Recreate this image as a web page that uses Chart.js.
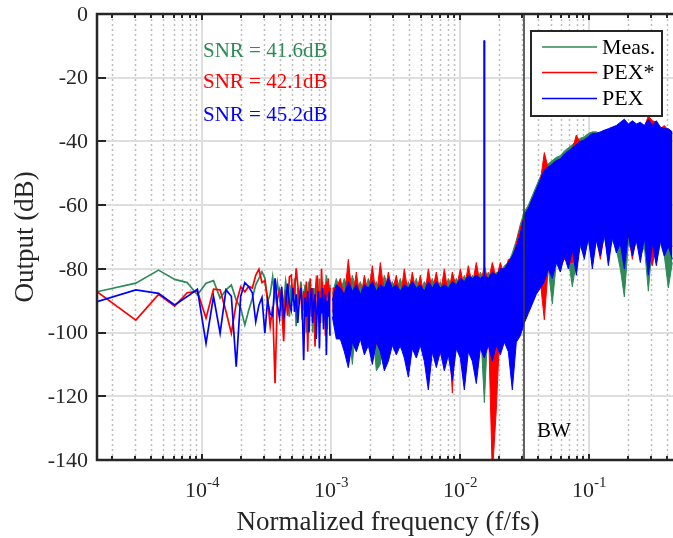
<!DOCTYPE html>
<html>
<head>
<meta charset="utf-8">
<script src="https://cdn.jsdelivr.net/npm/chart.js@4/dist/chart.umd.min.js"></script>
<style>
  html, body { margin: 0; padding: 0; background: #fff; }
  canvas { display: block; }
</style>
</head>
<body>
<canvas id="spectrum" width="673" height="538"></canvas>
<script>
(function(){
  // FFT length of the measured record, bins are k / NFFT
  const NFFT = 65536;

  // first 64 bins, one value per bin (dB)
  const measLow = [-87.2,-84.5,-80.4,-83.3,-84.3,-88.2,-84.5,-83.7,-89.2,-86.6,
    -85.1,-89.8,-92.3,-97.6,-93,-89.2,-85,-83,-80.9,-82.9,
    -90.3,-88,-82.5,-89.5,-84.3,-89.5,-86.6,-92,-84,-88,
    -95,-85,-90,-83,-98,-86,-91,-84,-89,-93,
    -85,-100,-88,-84,-92,-87,-100,-86,-90,-84,
    -86,-92,-83,-95,-88,-84,-97,-87,-90,-82,-99,-86,-91,-85];
  const pexStarLow = [-87.2,-96.1,-88,-91.7,-87.5,-87,-95.5,-86.4,-86.6,-93.4,
    -100.2,-90.8,-85.6,-87.2,-85.5,-86,-82,-80.1,-84.3,-83.7,
    -89.5,-98,-91.8,-115.9,-89.5,-86.6,-91.8,-102.7,-86.6,-94.7,
    -82.5,-82,-88.4,-87.5,-79.8,-85,-89.5,-86.6,-96,-87,
    -91,-84,-106,-88,-83,-95,-86,-90,-104.4,-85,
    -82,-90,-87,-97,-80,-88,-93,-85,-101,-84,-89,-83,-95,-86];
  const pexLow = [-90.3,-86.6,-87.7,-91.3,-88.7,-86.4,-103.4,-88.6,-100.2,-86.6,
    -88.6,-110.7,-88.6,-84.3,-85.6,-87.5,-96.6,-91.4,-89,-100.2,
    -89.9,-94.2,-94.7,-83,-91.4,-95.5,-85.6,-95.5,-91.4,-84.6,
    -90.9,-93,-86,-93.5,-88,-97,-90,-86,-92,-108.6,
    -89,-95,-87,-100,-90,-86,-97,-91,-88,-102,
    -92,-87,-105,-89,-94,-86,-99,-91,-88,-107,-90,-95,-87,-101];

  // dense part: top / bottom of the noise band at these frequencies
  const bandFreq = [1.018e-3,1.093e-3,1.174e-3,1.261e-3,1.354e-3,1.455e-3,
    1.563e-3,1.678e-3,1.803e-3,1.936e-3,2.079e-3,2.233e-3,2.398e-3,2.576e-3,2.766e-3,2.971e-3,
    3.191e-3,3.427e-3,3.680e-3,3.953e-3,4.245e-3,4.559e-3,4.896e-3,5.258e-3,5.647e-3,6.065e-3,
    6.516e-3,6.998e-3,7.516e-3,8.072e-3,8.669e-3,9.311e-3,1.000e-2,1.074e-2,1.153e-2,1.239e-2,
    1.330e-2,1.429e-2,1.535e-2,1.648e-2,1.770e-2,1.901e-2,2.042e-2,2.193e-2,2.355e-2,2.529e-2,
    2.717e-2,2.918e-2,3.134e-2,3.365e-2,3.614e-2,3.882e-2,4.170e-2,4.478e-2,4.809e-2,5.165e-2,
    5.547e-2,5.958e-2,6.398e-2,6.872e-2,7.380e-2,7.926e-2,8.513e-2,9.143e-2,9.82e-2,0.1055,
    0.1133,0.1217,0.1307,0.1404,0.1508,0.1619,0.1739,0.1868,0.2006,0.2155,
    0.2314,0.2485,0.2669,0.2867,0.3079,0.3307,0.3551,0.3814,0.4096,0.4399];

  const pexTop = [-90,-85,-86,-88,-84,-87,
    -85,-88,-85,-86,-84,-87,-85,-86,-83,-86,
    -85,-87,-85,-86,-84,-86,-85,-87,-84,-86,
    -84,-86,-85,-86,-84,-85,-83,-84,-82,-83,
    -82,-83,-82,-83,-81,-82,-80,-80,-78,-76,
    -73,-69,-63,-61,-58,-55,-52,-49,-48,-47,
    -46,-45.5,-44,-43,-42,-41,-40,-39.5,-38.5,-37.5,
    -37.5,-37,-36.5,-36,-35.5,-35,-34,-33,-34.5,-33.5,
    -34.5,-34,-35,-33,-35,-33.5,-35.5,-36,-36,-37];
  const pexBottom = [-95,-102,-102,-106,-111,-103,
    -106,-102,-107,-104,-110,-103,-106,-112,-109,-104,
    -107,-104,-108,-114,-105,-108,-104,-109,-118,-106,
    -111,-106,-112,-107,-115,-105,-108,-118,-106,-109,
    -116,-105,-108,-104,-109,-104,-107,-103,-106,-118,
    -103,-101,-97,-94,-91,-88,-86,-84,-80,-83,
    -78,-81,-76,-80,-74,-82,-72,-77,-70,-80,
    -71,-76,-69,-79,-70,-75,-72,-80,-69,-76,
    -71,-78,-70,-82,-72,-79,-71,-76,-73,-77];

  const pexStarTop = [-86,-86,-83,-89,-77,-89,
    -81,-90,-82,-88,-79,-89,-78,-88,-81,-87,
    -82,-89,-80,-88,-81,-88,-82,-89,-80,-87,
    -81,-88,-80,-88,-81,-86,-80,-86,-79,-85,
    -78,-85,-79,-84,-78,-83,-78,-82,-77,-77,
    -72,-67,-63.5,-61.5,-58.5,-55.5,-52.5,-43.5,-48.5,-47.5,
    -46.5,-46,-44.5,-43.5,-42.5,-38,-40.5,-40,-39,-38,
    -38,-37.5,-37,-36.5,-36,-35.5,-34.5,-33.5,-35,-34,
    -35,-34.5,-35.5,-32,-33.5,-34,-36,-35,-36.5,-37.5];
  const pexStarBottom = [-93,-95,-98,-96,-99,-96,
    -97,-95,-98,-96,-99,-104,-97,-107,-96,-98,
    -95,-97,-96,-98,-95,-97,-96,-98,-96,-97,
    -95,-98,-96,-97,-119,-96,-98,-96,-97,-95,
    -97,-96,-98,-96,-145,-124,-96,-97,-96,-98,
    -97,-96,-92,-90,-88,-86,-84,-96,-79,-81,
    -77,-79,-77,-78,-78,-76,-71,-75,-70,-76,
    -70,-77,-69,-75,-70,-73,-71,-74,-69,-77,
    -70,-74,-70,-75,-79,-72,-70,-74,-71,-73];

  const measTop = [-88,-83,-87,-83,-88,-82,
    -87,-84,-88,-83,-87,-84,-88,-82,-86,-84,
    -87,-83,-88,-84,-87,-83,-88,-84,-86,-83,
    -87,-84,-88,-83,-86,-83,-86,-82,-85,-82,
    -85,-81,-84,-81,-84,-81,-82,-79,-78,-75,
    -71,-66,-62,-60,-57,-54,-51,-48,-47,-46,
    -45,-44.5,-43,-42,-41,-40,-39,-38.5,-37.5,-37,
    -37,-37.5,-36.5,-36.5,-36,-35.5,-34.5,-34,-35,-34,
    -35,-34.5,-35.5,-34,-35.5,-34.5,-36,-36.5,-36.5,-37.5];
  const measBottom = [-93,-98,-97,-95,-97,-110,
    -96,-98,-97,-95,-98,-112,-110,-97,-96,-98,
    -97,-105,-96,-106,-97,-95,-98,-97,-96,-98,
    -97,-95,-98,-97,-96,-98,-97,-96,-98,-97,
    -96,-97,-122,-96,-98,-97,-96,-97,-96,-98,
    -97,-95,-91,-89,-87,-85,-83,-81,-80,-91,
    -78,-79,-77,-77,-85.6,-78,-73,-76,-71,-78,
    -70,-75,-70,-76,-71,-74,-80,-88.8,-72,-75,
    -71,-76,-73,-87,-72,-78,-72,-76,-86,-78];

  // input tone
  const toneFreq = [0.01535, 0.01535];
  const pexTone = [-85, -8.2];
  const pexStarTone = [-82, -8.4];

  const bwFreq = 1 / 32;
  const seriesNames = ['Meas.', 'PEX*', 'PEX'];
  const snrLabels = ['SNR = 41.6dB', 'SNR = 42.1dB', 'SNR = 45.2dB'];
  const xMajorTicks = [1e-4, 1e-3, 1e-2, 1e-1];
  const xTickExp = ['-4', '-3', '-2', '-1'];
  const xMinorSteps = [2, 3, 4, 5, 6, 7, 8, 9];
  const yTicks = [0, -20, -40, -60, -80, -100, -120, -140];

  const GREEN = '#2e8b57', RED = '#ff0000', BLUE = '#0000ff';
  const INK = '#262626';
  const SERIF = '"Liberation Serif", "Times New Roman", serif';
  const xMin = 1 / NFFT, xMax = 0.4452;

  const lowPts = ys => ys.map((y, i) => ({ x: (i + 1) / NFFT, y }));
  const pts = (xs, ys) => xs.map((x, i) => ({ x, y: ys[i] }));

  const line = (data, color, w) => ({ data, borderColor: color, borderWidth: w, fill: false, pointRadius: 0 });
  const bandTop = (data, color) => ({ data, borderColor: color, backgroundColor: color, borderWidth: 1, fill: '+1', pointRadius: 0 });

  // index order: lower index is drawn on top (blue over red over green)
  const datasets = [
    bandTop(pts(bandFreq, pexTop), BLUE),
    line(pts(bandFreq, pexBottom), BLUE, 1),
    line(lowPts(pexLow), BLUE, 1.7),
    line(pts(toneFreq, pexTone), BLUE, 1.5),
    bandTop(pts(bandFreq, pexStarTop), RED),
    line(pts(bandFreq, pexStarBottom), RED, 1),
    line(lowPts(pexStarLow), RED, 1.7),
    line(pts(toneFreq, pexStarTone), RED, 2.2),
    bandTop(pts(bandFreq, measTop), GREEN),
    line(pts(bandFreq, measBottom), GREEN, 1),
    line(lowPts(measLow), GREEN, 1.7)
  ];

  const minorTicks = [];
  [-5, -4, -3, -2, -1].forEach(e => xMinorSteps.forEach(m => {
    const v = m * Math.pow(10, e);
    if (v > xMin && v < xMax) minorTicks.push(v);
  }));

  const frame = {
    id: 'frame',
    beforeDatasetsDraw(chart) {
      const { ctx, chartArea: a, scales: { x, y } } = chart;
      ctx.save();
      ctx.lineWidth = 1.5;
      ctx.strokeStyle = '#bdbdbd';
      ctx.setLineDash([2, 3]);
      minorTicks.forEach(v => {
        const px = Math.round(x.getPixelForValue(v)) + 0.5;
        ctx.beginPath(); ctx.moveTo(px, a.top); ctx.lineTo(px, a.bottom); ctx.stroke();
      });
      ctx.setLineDash([]);
      ctx.strokeStyle = '#dedede';
      ctx.lineWidth = 2;
      xMajorTicks.forEach(v => {
        const px = Math.round(x.getPixelForValue(v));
        ctx.beginPath(); ctx.moveTo(px, a.top); ctx.lineTo(px, a.bottom); ctx.stroke();
      });
      yTicks.forEach(v => {
        const py = Math.round(y.getPixelForValue(v));
        ctx.beginPath(); ctx.moveTo(a.left, py); ctx.lineTo(a.right, py); ctx.stroke();
      });
      ctx.restore();
    },
    afterDraw(chart) {
      const { ctx, chartArea: a, scales: { x, y } } = chart;
      ctx.save();

      // bandwidth marker
      const bx = Math.round(x.getPixelForValue(bwFreq));
      ctx.strokeStyle = '#3a3a3a'; ctx.lineWidth = 1.6;
      ctx.beginPath(); ctx.moveTo(bx, a.top); ctx.lineTo(bx, a.bottom); ctx.stroke();
      ctx.fillStyle = '#000';
      ctx.font = '21px ' + SERIF;
      ctx.textAlign = 'left'; ctx.textBaseline = 'alphabetic';
      ctx.fillText('BW', bx + 13, 437);

      // axes box and ticks
      ctx.strokeStyle = INK; ctx.lineWidth = 2.5;
      ctx.beginPath();
      ctx.moveTo(a.right, a.top); ctx.lineTo(a.left, a.top);
      ctx.lineTo(a.left, a.bottom); ctx.lineTo(a.right, a.bottom);
      ctx.stroke();
      ctx.lineWidth = 2;
      const xt = (v, len) => {
        const px = Math.round(x.getPixelForValue(v));
        ctx.beginPath();
        ctx.moveTo(px, a.bottom); ctx.lineTo(px, a.bottom - len);
        ctx.moveTo(px, a.top); ctx.lineTo(px, a.top + len);
        ctx.stroke();
      };
      minorTicks.forEach(v => xt(v, 4));
      xMajorTicks.forEach(v => xt(v, 6));
      yTicks.forEach(v => {
        const py = Math.round(y.getPixelForValue(v));
        ctx.beginPath(); ctx.moveTo(a.left, py); ctx.lineTo(a.left + 9, py); ctx.stroke();
      });

      // tick labels
      ctx.fillStyle = INK;
      ctx.font = '22px ' + SERIF;
      ctx.textAlign = 'right'; ctx.textBaseline = 'middle';
      yTicks.forEach(v => ctx.fillText(String(v), 88, y.getPixelForValue(v) + 1));
      ctx.textAlign = 'left'; ctx.textBaseline = 'alphabetic';
      xMajorTicks.forEach((v, i) => {
        const px = x.getPixelForValue(v);
        ctx.font = '22px ' + SERIF;
        const wb = ctx.measureText('10').width;
        ctx.font = '15px ' + SERIF;
        const we = ctx.measureText(xTickExp[i]).width;
        const left = px - (wb + we) / 2;
        ctx.font = '22px ' + SERIF;
        ctx.fillText('10', left, 497);
        ctx.font = '15px ' + SERIF;
        ctx.fillText(xTickExp[i], left + wb, 487);
      });

      // axis titles
      ctx.font = '27px ' + SERIF;
      ctx.textAlign = 'center';
      ctx.fillText('Normalized frequency (f/fs)', 388, 530);
      ctx.save();
      ctx.translate(33, 237); ctx.rotate(-Math.PI / 2);
      ctx.fillText('Output (dB)', 0, 0);
      ctx.restore();

      // SNR annotations
      ctx.font = '21px ' + SERIF;
      ctx.textAlign = 'left';
      [GREEN, RED, BLUE].forEach((c, i) => {
        ctx.fillStyle = c;
        ctx.fillText(snrLabels[i], 203, [57, 88, 121][i]);
      });

      // legend
      ctx.fillStyle = '#fff';
      ctx.fillRect(531, 31, 131, 85);
      ctx.strokeStyle = INK; ctx.lineWidth = 2;
      ctx.strokeRect(531, 31, 131, 85);
      ctx.font = '22px ' + SERIF;
      ctx.textBaseline = 'middle';
      [GREEN, RED, BLUE].forEach((c, i) => {
        const ly = [47, 72.5, 98.5][i];
        ctx.strokeStyle = c; ctx.lineWidth = 1.5;
        ctx.beginPath(); ctx.moveTo(542, ly); ctx.lineTo(597, ly); ctx.stroke();
        ctx.fillStyle = '#000';
        ctx.fillText(seriesNames[i], 602, ly + 1);
      });
      ctx.restore();
    }
  };

  new Chart(document.getElementById('spectrum'), {
    type: 'line',
    data: { datasets },
    options: {
      responsive: false,
      animation: false,
      devicePixelRatio: 1,
      layout: { padding: { left: 97, top: 14, right: 0, bottom: 78 } },
      plugins: { legend: { display: false }, tooltip: { enabled: false } },
      elements: { line: { tension: 0 }, point: { radius: 0 } },
      scales: {
        x: { type: 'logarithmic', min: xMin, max: xMax, display: false },
        y: { type: 'linear', min: -140, max: 0, display: false }
      }
    },
    plugins: [frame]
  });
})();
</script>
</body>
</html>
